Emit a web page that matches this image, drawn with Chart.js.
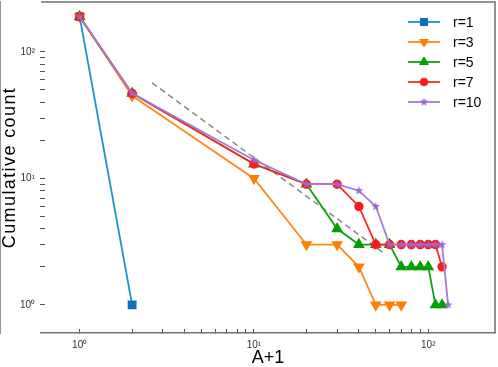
<!DOCTYPE html>
<html>
<head>
<meta charset="utf-8">
<script src="https://cdn.jsdelivr.net/npm/chart.js@4/dist/chart.umd.min.js"></script>
<style>
  html, body { margin: 0; padding: 0; background: #fff; }
  #wrap { width: 498px; height: 367px; position: relative; }
</style>
</head>
<body>
<div id="wrap"><canvas id="grafico"></canvas></div>
<script>
// Cumulative count vs A+1, one curve per r
const seriesNames = ['r=1', 'r=3', 'r=5', 'r=7', 'r=10'];

const r1X = [1, 2];
const r1Y = [190, 1];

const r3X = [1, 2, 10, 20, 30, 40, 50, 60, 70];
const r3Y = [190, 45, 10, 3, 3, 2, 1, 1, 1];

const r5X = [1, 2, 10, 20, 30, 40, 50, 60, 70, 80, 90, 100, 110, 120];
const r5Y = [190, 47, 13, 9, 4, 3, 3, 3, 2, 2, 2, 2, 1, 1];

const r7X = [1, 2, 10, 20, 30, 40, 50, 60, 70, 80, 90, 100, 110, 120];
const r7Y = [190, 47, 13, 9, 9, 6, 3, 3, 3, 3, 3, 3, 3, 2];

const r10X = [1, 2, 10, 20, 30, 40, 50, 60, 70, 80, 90, 100, 110, 120, 130];
const r10Y = [190, 47, 14, 9, 9, 8, 6, 3, 3, 3, 3, 3, 3, 3, 1];

// dashed guide line
const refX = [2.6, 55];
const refY = [57, 2.6];

// axes
const xRange = [0.615, 241.5];
const yRange = [0.603, 248];
const tickVals = [1, 2, 3, 4, 5, 6, 7, 8, 9, 10, 20, 30, 40, 50, 60, 70, 80, 90, 100];
const majorTicks = [1, 10, 100];
const majorLabels = ['10\u2070', '10\u00B9', '10\u00B2'];

function toPoints(xs, ys) {
  return xs.map((x, i) => ({ x: x, y: ys[i] }));
}

function makeStar(color, size) {
  const c = document.createElement('canvas');
  c.width = size; c.height = size;
  const g = c.getContext('2d');
  const cx = size / 2, cy = size / 2, R = size / 2, r = R * 0.42;
  g.beginPath();
  for (let k = 0; k < 10; k++) {
    const a = -Math.PI / 2 + k * Math.PI / 5;
    const rad = k % 2 ? r : R;
    g.lineTo(cx + rad * Math.cos(a), cy + rad * Math.sin(a));
  }
  g.closePath();
  g.fillStyle = color;
  g.fill();
  return c;
}

const tickLabel = (v) => {
  const k = majorTicks.indexOf(v);
  return k >= 0 ? majorLabels[k] : '';
};

const setTicks = (scale) => {
  scale.ticks = tickVals.map(v => ({ value: v, major: majorTicks.includes(v) }));
};

// fixed box sizes so the plot area lands where the original has it
const fitBox = (size) => (s) => {
  if (s.isHorizontal()) s.height = size; else s.width = size;
  s.paddingTop = 0; s.paddingBottom = 0; s.paddingLeft = 0; s.paddingRight = 0;
};

const dataGraf = {
  datasets: [{
    label: seriesNames[0],
    data: toPoints(r1X, r1Y),
    borderColor: '#1b93d1',
    backgroundColor: '#0a70bd',
    pointBorderColor: '#0a70bd',
    pointStyle: 'rect',
    pointRadius: 5,
    borderWidth: 1.8,
    order: 5
  }, {
    label: seriesNames[1],
    data: toPoints(r3X, r3Y),
    borderColor: '#ff8a1c',
    backgroundColor: '#ff7f00',
    pointBorderColor: '#ff7f00',
    pointStyle: 'triangle',
    rotation: 180,
    pointRadius: 5,
    borderWidth: 1.8,
    order: 4
  }, {
    label: seriesNames[2],
    data: toPoints(r5X, r5Y),
    borderColor: '#12a012',
    backgroundColor: '#00a000',
    pointBorderColor: '#00a000',
    pointStyle: 'triangle',
    pointRadius: 5,
    borderWidth: 1.8,
    order: 3
  }, {
    label: seriesNames[3],
    data: toPoints(r7X, r7Y),
    borderColor: '#ff2626',
    backgroundColor: '#ff1a1a',
    pointBorderColor: '#ff1a1a',
    pointStyle: 'circle',
    pointRadius: 3.8,
    borderWidth: 1.8,
    order: 2
  }, {
    label: seriesNames[4],
    data: toPoints(r10X, r10Y),
    borderColor: '#a57bd6',
    backgroundColor: '#9b66d0',
    pointBorderColor: '#9b66d0',
    pointStyle: makeStar('#9b66d0', 9),
    pointRadius: 4.5,
    borderWidth: 1.8,
    order: 1
  }, {
    label: '',
    data: toPoints(refX, refY),
    borderColor: '#8c8c8c',
    borderDash: [6, 4],
    borderWidth: 1.6,
    pointRadius: 0,
    order: 10
  }]
};

// legend inside the plot, top right
const legendaInterna = {
  id: 'legendaInterna',
  beforeDraw(chart) { chart.ctx.letterSpacing = '0px'; },
  afterDatasetsDraw(chart) { chart.ctx.letterSpacing = '1.4px'; },
  afterDraw(chart) {
    const ctx = chart.ctx;
    const area = chart.chartArea;
    ctx.letterSpacing = '0px';
    ctx.save();
    // top and right frame
    ctx.strokeStyle = '#707070';
    ctx.lineWidth = 1.5;
    ctx.beginPath();
    ctx.moveTo(area.left, area.top);
    ctx.lineTo(area.right, area.top);
    ctx.lineTo(area.right, area.bottom);
    ctx.stroke();

    const x0 = area.right - 87;
    chart.data.datasets.forEach((ds, i) => {
      if (!ds.label) return;
      const y = area.top + 20 + i * 20;
      ctx.strokeStyle = ds.borderColor;
      ctx.lineWidth = ds.borderWidth;
      ctx.setLineDash([]);
      ctx.beginPath();
      ctx.moveTo(x0, y);
      ctx.lineTo(x0 + 32, y);
      ctx.stroke();
      ctx.fillStyle = ds.backgroundColor;
      ctx.strokeStyle = ds.pointBorderColor;
      ctx.lineWidth = 1;
      Chart.helpers.drawPoint(ctx, {
        pointStyle: ds.pointStyle,
        rotation: ds.rotation || 0,
        radius: ds.pointRadius,
        borderWidth: 1
      }, x0 + 16, y);
      ctx.fillStyle = '#000';
      ctx.font = '14px "Liberation Sans", Arial, sans-serif';
      ctx.textAlign = 'left';
      ctx.textBaseline = 'middle';
      ctx.fillText(ds.label, x0 + 45, y + 1);
    });
    ctx.restore();
  }
};

const configGraf = {
  type: 'scatter',
  data: dataGraf,
  options: {
    responsive: true,
    maintainAspectRatio: false,
    animation: false,
    showLine: true,
    layout: { autoPadding: false, padding: { top: 2, right: 3, left: 0, bottom: 0 } },
    plugins: {
      legend: { display: false },
      tooltip: { enabled: false }
    },
    scales: {
      x: {
        type: 'logarithmic',
        min: xRange[0],
        max: xRange[1],
        afterBuildTicks: setTicks,
        afterFit: fitBox(34),
        grid: { drawOnChartArea: false, drawTicks: true, tickLength: -4, color: '#555', lineWidth: 1 },
        border: { display: true, color: '#707070', width: 1.5 },
        ticks: {
          autoSkip: false,
          maxRotation: 0,
          padding: 10,
          color: '#333',
          font: { family: '"Liberation Sans", Arial, sans-serif', size: 10 },
          callback: (v) => tickLabel(v)
        },
        title: {
          display: true,
          text: 'A+1',
          color: '#000',
          padding: { top: 0, bottom: 0 },
          font: { family: '"Liberation Sans", Arial, sans-serif', size: 18, lineHeight: 1 }
        }
      },
      y: {
        type: 'logarithmic',
        min: yRange[0],
        max: yRange[1],
        afterBuildTicks: setTicks,
        afterFit: fitBox(41),
        grid: { drawOnChartArea: false, drawTicks: true, tickLength: -4, color: '#555', lineWidth: 1, z: 1 },
        border: { display: true, color: '#707070', width: 1.5 },
        ticks: {
          autoSkip: false,
          padding: 10,
          color: '#333',
          font: { family: '"Liberation Sans", Arial, sans-serif', size: 10 },
          callback: (v) => tickLabel(v)
        },
        title: {
          display: true,
          text: 'Cumulative count',
          color: '#000',
          padding: { top: 1, bottom: 0 },
          font: { family: '"Liberation Sans", Arial, sans-serif', size: 18, lineHeight: 1 }
        }
      }
    }
  },
  plugins: [legendaInterna]
};

const myChart = new Chart(
  document.getElementById('grafico'),
  configGraf
);
</script>
</body>
</html>
